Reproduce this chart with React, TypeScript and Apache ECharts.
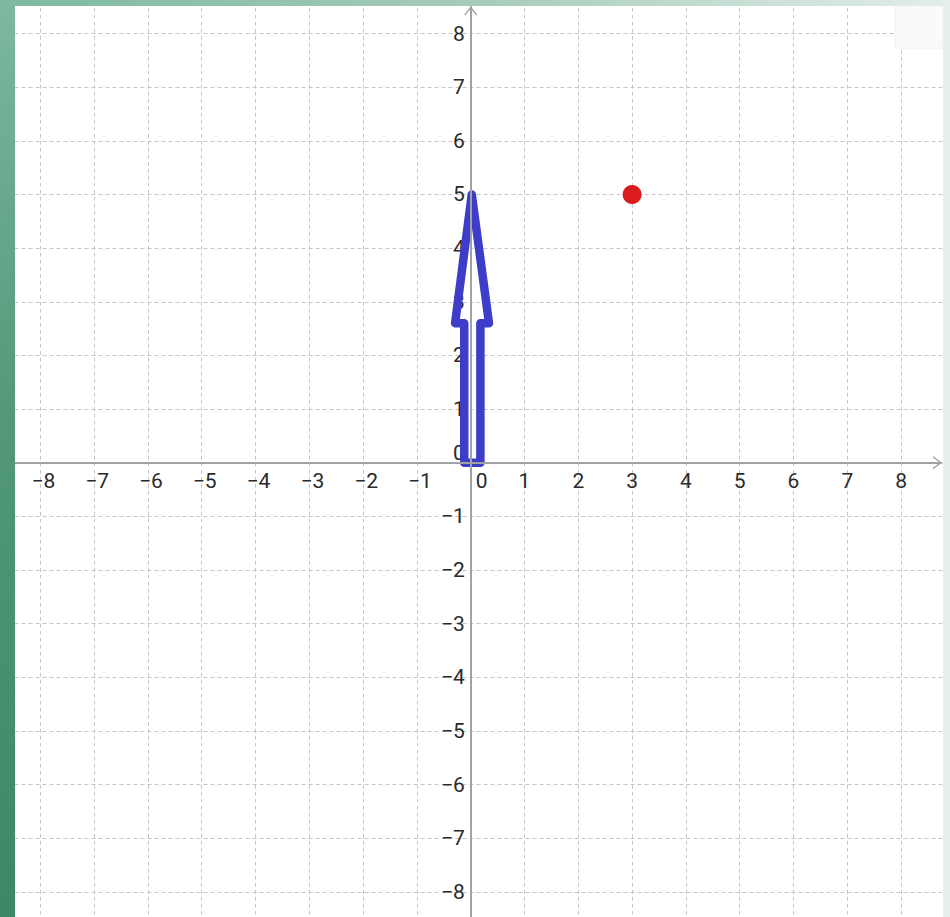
import React, { useEffect, useRef } from "react";
import * as echarts from "echarts";

// Axis range (grid is one unit larger than the visible window on every side)
const axisMin = -9;
const axisMax = 9;
const axisStep = 1;

// Blue arrow outline (data coordinates, closed polygon)
const arrowX = [-0.12, 0.18, 0.18, 0.34, 0.02, -0.29, -0.12, -0.12];
const arrowY = [0, 0, 2.6, 2.6, 5.0, 2.6, 2.6, 0];

// Red point
const pointX = [3];
const pointY = [5];

// Axis line ends (arrow tips)
const xAxisTip = 8.76;
const yAxisTip = 8.51;

const MINUS = "\u2212";

function labelFormatter(v: number): string {
  if (Math.abs(v) >= 9) return "";
  if (v === 0) return "{z|0}";
  if (v < 0) return "{n|" + MINUS + Math.abs(v) + "}";
  return "{p|" + v + "}";
}

export default function App() {
  const ref = useRef<HTMLDivElement>(null);

  useEffect(() => {
    document.body.style.margin = "0";
    if (!ref.current) return;
    const chart = echarts.init(ref.current, undefined, { renderer: "svg" });

    const unitX = 53.8;
    const unitY = 53.65;
    const originX = 470.7;
    const originY = 462.7;

    const textBase = {
      fontFamily: "Roboto",
      fontSize: 21,
      color: "#2a2a2a",
    };

    const arrowData = arrowX.map((x, i) => [x, arrowY[i]]);
    const pointData = pointX.map((x, i) => [x, pointY[i]]);

    // chevron pointing "up", tip located at the bbox centre
    const chevron =
      "path://M0,8.6 L6.5,0 L13,8.6 L11.9,9.4 L6.5,2.3 L1.1,9.4 Z M6.5,-9.4 L6.5001,-9.4 L6.5,-9.4001 Z";

    const hiddenAxisLine = {
      show: false,
      onZero: false,
    };

    chart.setOption({
      animation: false,
      backgroundColor: "#ffffff",
      grid: {
        left: originX + axisMin * unitX,
        top: originY - axisMax * unitY,
        width: (axisMax - axisMin) * unitX,
        height: (axisMax - axisMin) * unitY,
        containLabel: false,
        outerBoundsMode: "none",
      },
      xAxis: {
        type: "value",
        position: "bottom",
        // move the labels from the bottom edge (y = axisMin) up to y = 0
        offset: axisMin * unitY,
        min: axisMin,
        max: axisMax,
        interval: axisStep,
        axisLine: hiddenAxisLine,
        axisTick: { show: false },
        splitLine: {
          show: true,
          lineStyle: { color: "#c6c6c6", width: 1, type: [4, 3] },
        },
        axisLabel: {
          show: true,
          margin: 8,
          hideOverlap: false,
          formatter: labelFormatter,
          ...textBase,
          rich: {
            z: { ...textBase, padding: [0, 0, 0, 22] },
            n: { ...textBase, padding: [0, 0, 0, 6] },
            p: { ...textBase },
          },
        },
      },
      yAxis: {
        type: "value",
        position: "left",
        // move the labels from the left edge (x = axisMin) right to x = 0
        offset: axisMin * unitX,
        min: axisMin,
        max: axisMax,
        interval: axisStep,
        axisLine: hiddenAxisLine,
        axisTick: { show: false },
        splitLine: {
          show: true,
          lineStyle: { color: "#c6c6c6", width: 1, type: [4, 3] },
        },
        axisLabel: {
          show: true,
          margin: 6,
          hideOverlap: false,
          formatter: labelFormatter,
          ...textBase,
          rich: {
            z: { ...textBase, padding: [0, 0, 20, 0] },
            n: { ...textBase },
            p: { ...textBase },
          },
        },
      },
      series: [
        {
          type: "line",
          data: [],
          z: 1,
          silent: true,
          markLine: {
            silent: true,
            animation: false,
            symbol: ["none", chevron],
            symbolSize: [13, 18.8],
            label: { show: false },
            emphasis: { disabled: true },
            lineStyle: { color: "#a2a2a2", width: 2, type: "solid" },
            data: [
              [{ coord: [axisMin, 0] }, { coord: [xAxisTip, 0] }],
              [{ coord: [0, axisMin] }, { coord: [0, yAxisTip] }],
            ],
          },
        },
        {
          type: "line",
          data: arrowData,
          z: 3,
          silent: true,
          showSymbol: false,
          symbol: "none",
          lineStyle: {
            color: "#3d3dc9",
            width: 8.5,
            cap: "round",
            join: "round",
          },
        },
        {
          type: "scatter",
          data: pointData,
          z: 4,
          silent: true,
          symbol: "circle",
          symbolSize: 19,
          itemStyle: { color: "#dc1b1f", opacity: 1 },
        },
      ],
      graphic: [
        {
          type: "rect",
          z: 100,
          silent: true,
          shape: { x: 0, y: 0, width: 15, height: 917 },
          style: {
            fill: {
              type: "linear",
              x: 0,
              y: 0,
              x2: 0,
              y2: 1,
              colorStops: [
                { offset: 0, color: "#7db9a0" },
                { offset: 0.45, color: "#529879" },
                { offset: 1, color: "#3d8767" },
              ],
            },
          },
        },
        {
          type: "rect",
          z: 100,
          silent: true,
          shape: { x: 0, y: 0, width: 950, height: 6 },
          style: {
            fill: {
              type: "linear",
              x: 0,
              y: 0,
              x2: 1,
              y2: 0,
              colorStops: [
                { offset: 0, color: "#7db9a0" },
                { offset: 0.5, color: "#a6cbb9" },
                { offset: 1, color: "#e2eee9" },
              ],
            },
          },
        },
        {
          type: "rect",
          z: 100,
          silent: true,
          shape: { x: 943, y: 0, width: 7, height: 917 },
          style: { fill: "#e6f1ec" },
        },
        {
          type: "rect",
          z: 100,
          silent: true,
          shape: { x: 895, y: 6, width: 48, height: 42 },
          style: { fill: "#f9fbfa", stroke: "#eef2f0", lineWidth: 1 },
        },
      ],
    });

    return () => {
      chart.dispose();
    };
  }, []);

  return <div ref={ref} style={{ width: 950, height: 917 }} />;
}
